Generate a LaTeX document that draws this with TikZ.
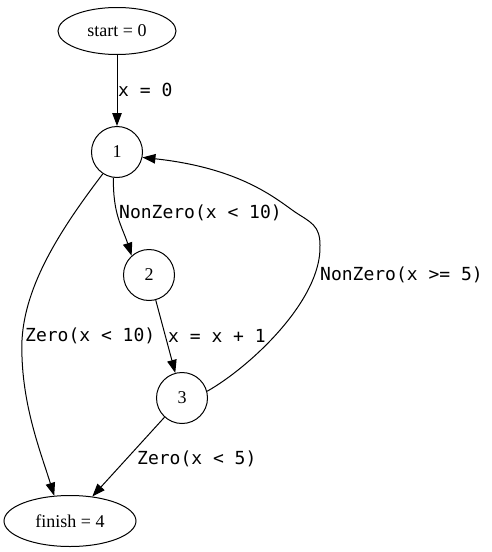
\documentclass[tikz,border=0pt]{standalone}
\usepackage{fontspec}
\setmainfont{Liberation Serif}
\newfontfamily\guardfont{DejaVu Sans Mono}
\usetikzlibrary{shapes.geometric,arrows.meta}
\begin{document}
\begin{tikzpicture}[
      x=1pt, y=-1pt,
      state/.style={draw, circle, line width=1pt, minimum size=51pt, inner sep=0pt, font=\fontsize{18}{20}\selectfont},
      term/.style={draw, ellipse, line width=1pt, inner sep=0pt, font=\fontsize{18}{20}\selectfont},
      edge/.style={line width=1pt, -{Triangle[length=13pt,width=9.5pt]}},
      guard/.style={anchor=west, inner sep=0pt, font=\guardfont\fontsize{18}{20}\selectfont}
    ]
    \useasboundingbox (0,0) rectangle (491,552);
    % states
    \node[term, minimum width=118pt, minimum height=47pt] (start) at (117,31) {start = 0};
    \node[state] (n1) at (117,152) {1};
    \node[state] (n2) at (149,275) {2};
    \node[state] (n3) at (182,398) {3};
    \node[term, minimum width=132pt, minimum height=51pt] (finish) at (70,521) {finish = 4};
    % transitions
    \draw[edge] (start) -- (n1);
    \draw[edge] (n1.-98) .. controls (113,215) and (122,226) .. (n2.132);
    \draw[edge] (n2) -- (n3);
    \draw[edge] (n3) -- (finish);
    \draw[edge] (n1.-123) .. controls (60,230) and (25,285) .. (22,340)
      .. controls (20,400) and (40,450) .. (finish.122);
    \draw[edge] (n3.15) .. controls (250,367) and (322,300) .. (320,245)
      .. controls (320,225) and (310,222) .. (295,212)
      .. controls (275,198) and (240,168) .. (n1.-12);
    % guards
    \node[guard] (g0) at (118,90) {x = 0};
    \node[guard] (g12) at (119,213) {NonZero(x < 10)};
    \node[guard] (g23) at (168,336) {x = x + 1};
    \node[guard] (g14) at (25,336) {Zero(x < 10)};
    \node[guard] (g34) at (137,459) {Zero(x < 5)};
    \node[guard] (g31) at (320,275) {NonZero(x >= 5)};
\end{tikzpicture}
\end{document}
